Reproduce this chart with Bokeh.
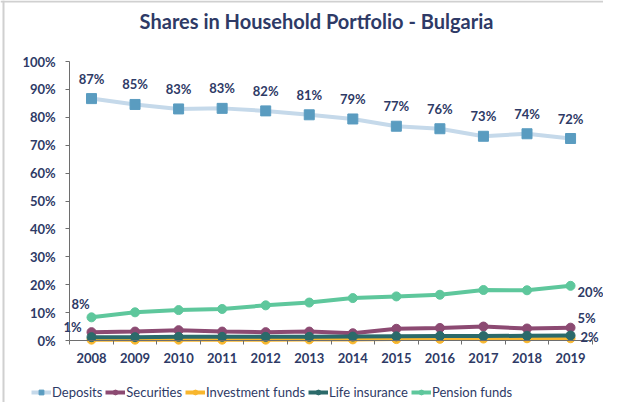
from bokeh.plotting import figure
from bokeh.models import (ColumnDataSource, FixedTicker, Legend, LegendItem,
                          Label, PrintfTickFormatter, Range1d, Span)
from bokeh.core.properties import value
from bokeh.embed import file_html
from bokeh.resources import INLINE

years = list(range(2008, 2020))
deposits = [86.7, 84.6, 83.0, 83.2, 82.3, 80.9, 79.4, 76.8, 75.9, 73.2, 74.1, 72.4]
securities = [3.0, 3.2, 3.7, 3.2, 3.0, 3.2, 2.6, 4.2, 4.5, 5.0, 4.3, 4.6]
investment_funds = [0.3, 0.3, 0.3, 0.3, 0.3, 0.4, 0.4, 0.5, 0.6, 0.7, 0.8, 0.8]
life_insurance = [1.2, 1.2, 1.3, 1.3, 1.3, 1.3, 1.4, 1.5, 1.6, 1.6, 1.7, 1.8]
pension_funds = [8.3, 10.1, 10.9, 11.3, 12.6, 13.6, 15.2, 15.8, 16.4, 18.1, 18.0, 19.6]
y_ticks = [0, 10, 20, 30, 40, 50, 60, 70, 80, 90, 100]

FONT = "Lato"
NAVY = "#2e3a66"
AXIS = "#6e6e6e"

W, H = 603, 402
PX_YEAR = 43.55          # pixels per year
PX_PCT = 2.79            # pixels per percent
X0_PX, Y0_PX = 91, 340   # screen position of (2008, 0%)
x_start = 2008 - X0_PX / PX_YEAR
x_end = 2008 + (W - X0_PX) / PX_YEAR
y_start = -(H - Y0_PX) / PX_PCT
y_end = Y0_PX / PX_PCT

p = figure(width=W, height=H, output_backend="svg", toolbar_location=None,
           x_range=Range1d(x_start, x_end), y_range=Range1d(y_start, y_end),
           min_border=0)
p.outline_line_color = None
p.grid.visible = False

# light frame lines (left and top) like the reference image border
p.add_layout(Span(location=x_start + 3 / PX_YEAR, dimension="height",
                  line_color="#d0d0d0", line_width=2))
p.add_layout(Span(location=y_end - 1 / PX_PCT, dimension="width",
                  line_color="#d0d0d0", line_width=2))

series = [
    ("Deposits", deposits, "#c5d9ea", "#5a9cc0", "square", 10),
    ("Securities", securities, "#8c4a72", "#8c4a72", "circle", 9),
    ("Investment funds", investment_funds, "#f8b62d", "#f8b62d", "circle", 9),
    ("Life insurance", life_insurance, "#2b6a6a", "#2b6a6a", "circle", 9),
    ("Pension funds", pension_funds, "#5ec79c", "#5ec79c", "circle", 9),
]
items = []
for name, vals, lc, mc, marker, size in series:
    src = ColumnDataSource(dict(x=years, y=vals))
    ln = p.line("x", "y", source=src, line_color=lc, line_width=4)
    sc = p.scatter("x", "y", source=src, marker=marker, size=size,
                   fill_color=mc, line_color=mc)
    items.append(LegendItem(label=name, renderers=[ln, sc]))

# Deposit labels
dsrc = ColumnDataSource(dict(x=years, y=deposits,
                             t=[f"{round(v)}%" for v in deposits]))
p.text("x", "y", text="t", source=dsrc, y_offset=-20, text_align="center",
       text_baseline="middle", text_color=NAVY, text_font=value(FONT),
       text_font_style="bold", text_font_size="13px")

def lab(x, y, t, dx, dy, align="center"):
    p.add_layout(Label(x=x, y=y, text=t, x_offset=dx, y_offset=dy,
                       text_align=align, text_baseline="middle",
                       text_color=NAVY, text_font=FONT, text_font_style="bold",
                       text_font_size="13px"))

lab(years[0], pension_funds[0], f"{round(pension_funds[0])}%", -11, 13)
lab(years[-1], pension_funds[-1], f"{round(pension_funds[-1])}%", 7, -6, "left")
lab(years[-1], securities[-1], f"{round(securities[-1])}%", 7, 10, "left")
lab(years[-1], life_insurance[-1], f"{round(life_insurance[-1])}%", 10, -2, "left")
lab(years[0], life_insurance[0], f"{round(life_insurance[0])}%", -19, 10)

# Title
p.add_layout(Label(x=x_start + 316 / PX_YEAR, y=(Y0_PX - 20) / PX_PCT,
                   text="Shares in Household Portfolio - Bulgaria",
                   text_align="center", text_baseline="middle", text_color=NAVY,
                   text_font=FONT, text_font_style="bold", text_font_size="20px"))

# Axes (placed inside the frame at fixed data locations)
p.yaxis.fixed_location = 2007.5
p.yaxis.bounds = (0, 100)
p.xaxis.fixed_location = 0
p.xaxis.bounds = (2007.5, 2019.5)
p.yaxis.ticker = FixedTicker(ticks=y_ticks)
p.yaxis.formatter = PrintfTickFormatter(format="%d%%")
p.yaxis.major_tick_out = 4
p.yaxis.major_tick_in = 0
p.xaxis.ticker = FixedTicker(ticks=years, minor_ticks=[y - 0.5 for y in years] + [2019.5])
p.xaxis.minor_tick_out = 4
p.xaxis.minor_tick_in = 0
p.xaxis.major_label_standoff = 6
for ax in (p.xaxis, p.yaxis):
    ax.axis_line_color = AXIS
    ax.major_label_text_color = NAVY
    ax.major_label_text_font = FONT
    ax.major_label_text_font_style = "bold"
    ax.major_label_text_font_size = "13px"
p.yaxis.major_tick_line_color = AXIS
p.yaxis.minor_tick_line_color = None
p.xaxis.major_tick_line_color = None
p.xaxis.minor_tick_line_color = AXIS
p.yaxis.major_label_standoff = 10

legend = Legend(items=items, orientation="horizontal", location=(31, 2),
                glyph_width=20, glyph_height=12, label_standoff=1, spacing=3,
                padding=0, margin=0, background_fill_alpha=0, border_line_color=None,
                label_text_color=NAVY, label_text_font=FONT,
                label_text_font_size="13px")
p.add_layout(legend, "center")

open("out.html", "w").write(file_html(p, INLINE))
